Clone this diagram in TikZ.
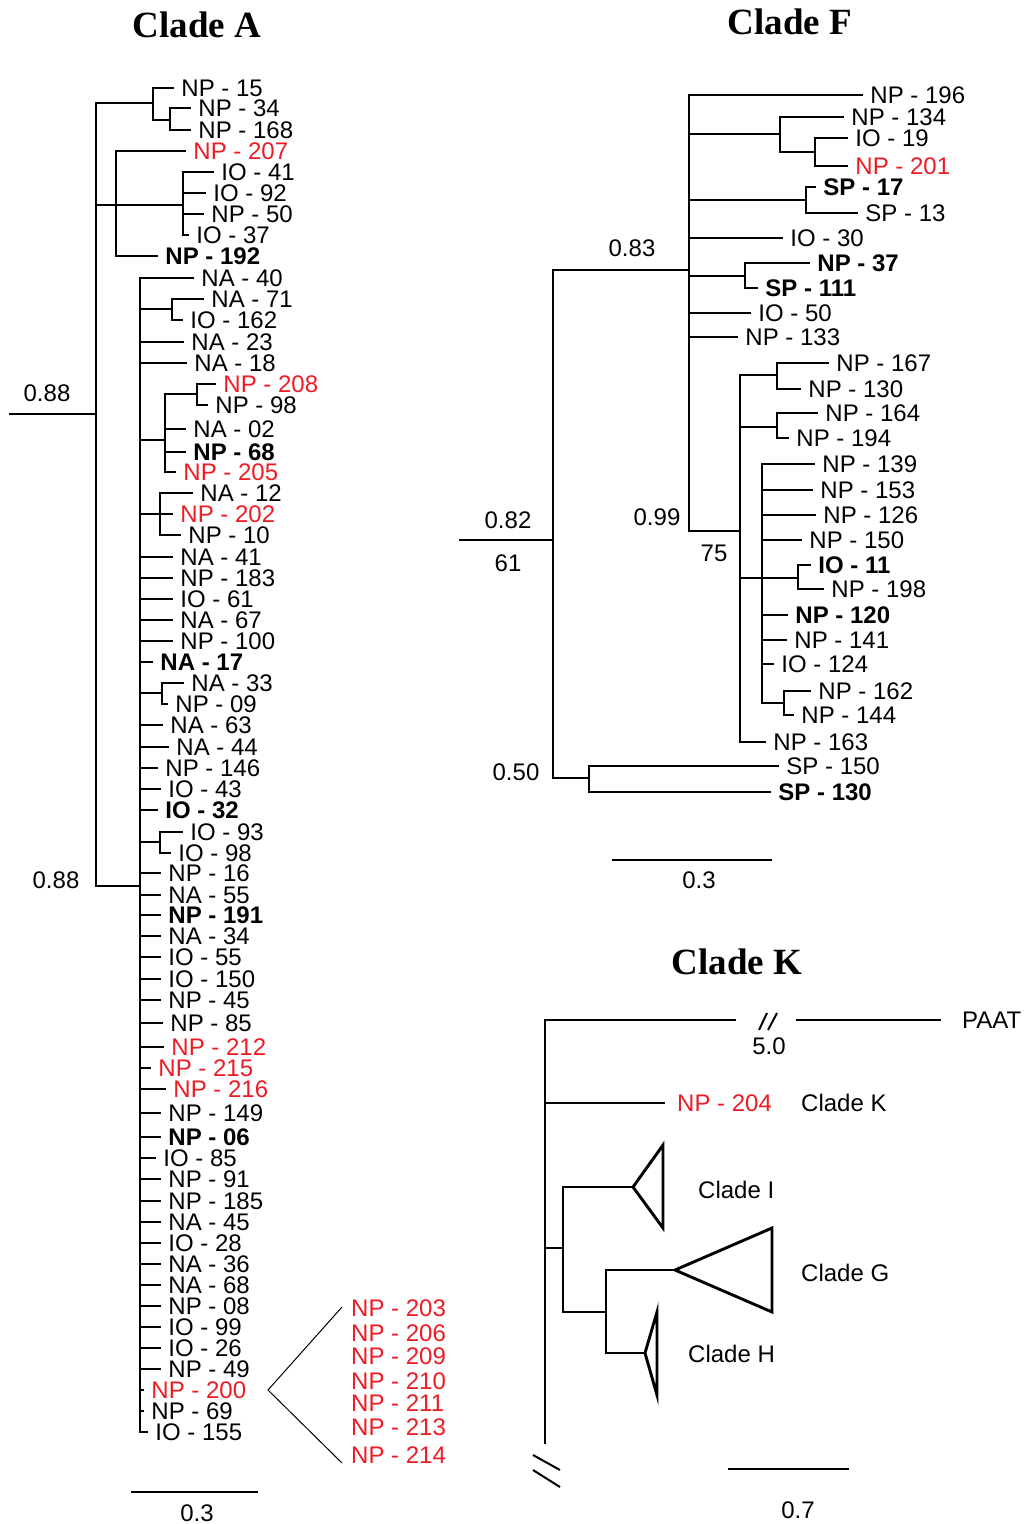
\documentclass[tikz,border=0pt]{standalone}
\usepackage{fontspec}
\usetikzlibrary{positioning}
\newfontfamily\treefont{Liberation Sans}
\newfontfamily\headfont{Liberation Serif}
\newcommand\lbl{\treefont\fontsize{24}{24}\selectfont}
\newcommand\hdl{\headfont\bfseries\fontsize{37}{37}\selectfont}
\definecolor{npred}{RGB}{237,28,36}

\begin{document}
\begin{tikzpicture}[x=1pt,y=-1pt,
  br/.style={line width=2.9pt,line cap=rect},
  fine/.style={line width=1pt},
  lf/.style={right,inner xsep=7pt,inner ysep=0pt,font=\lbl},
  rd/.style={lf,text=npred},
  bd/.style={lf,font=\lbl\bfseries},
  num/.style={inner sep=0pt,font=\lbl},
  hd/.style={inner sep=0pt,font=\hdl}]
\useasboundingbox (0,0) rectangle (1035,1524);

% ---- Clade A
\node[hd] (ttlA) at (197,25) {Clade A};
\draw[br] (10,414) -- (96,414);
\node[num] (bsA1) at (47,393) {0.88};
\node[num] (bsA2) at (56,880) {0.88};
\draw[br] (96,103) -- (96,886) -- (140,886);
\draw[br] (96,103) -- (153,103);
\draw[br] (153,88) -- (153,120) -- (170,120);
\draw[br] (153,88) -- (173,88) node[lf] (a15) {NP - 15};
\draw[br] (170,108) -- (170,130);
\draw[br] (170,108) -- (190,108) node[lf] (a34) {NP - 34};
\draw[br] (170,130) -- (190,130) node[lf] (a168) {NP - 168};
\draw[br] (96,205) -- (183,205);
\draw[br] (116,151) -- (116,256);
\draw[br] (116,151) -- (185,151) node[rd] (a207) {NP - 207};
\draw[br] (116,256) -- (157,256) node[bd] (a192) {NP - 192};
\draw[br] (183,172) -- (183,235);
\draw[br] (183,172) -- (213,172) node[lf] (a41) {IO - 41};
\draw[br] (183,193) -- (205,193) node[lf] (a92) {IO - 92};
\draw[br] (183,214) -- (203,214) node[lf] (a50) {NP - 50};
\draw[br] (183,235) -- (188,235) node[lf] (a37) {IO - 37};
\draw[br] (140,278) -- (140,1432);
\draw[br] (140,278) -- (193,278) node[lf] (b40) {NA - 40};
\draw[br] (140,309) -- (172,309);
\draw[br] (172,299) -- (172,320);
\draw[br] (172,299) -- (203,299) node[lf] (b71) {NA - 71};
\draw[br] (172,320) -- (182,320) node[lf] (b162) {IO - 162};
\draw[br] (140,342) -- (183,342) node[lf] (b23) {NA - 23};
\draw[br] (140,363) -- (186,363) node[lf] (b18) {NA - 18};
\draw[br] (140,440) -- (165,440);
\draw[br] (165,394) -- (165,472);
\draw[br] (165,394) -- (197,394);
\draw[br] (197,384) -- (197,405);
\draw[br] (197,384) -- (215,384) node[rd] (b208) {NP - 208};
\draw[br] (197,405) -- (207,405) node[lf] (b98) {NP - 98};
\draw[br] (165,429) -- (185,429) node[lf] (b02) {NA - 02};
\draw[br] (165,452) -- (185,452) node[bd] (b68) {NP - 68};
\draw[br] (165,472) -- (175,472) node[rd] (b205) {NP - 205};
\draw[br] (160,493) -- (160,535);
\draw[br] (160,493) -- (192,493) node[lf] (b12) {NA - 12};
\draw[br] (140,514) -- (172,514) node[rd] (b202) {NP - 202};
\draw[br] (160,535) -- (180,535) node[lf] (b10) {NP - 10};
\draw[br] (140,557) -- (172,557) node[lf] (c41) {NA - 41};
\draw[br] (140,578) -- (172,578) node[lf] (c183) {NP - 183};
\draw[br] (140,599) -- (172,599) node[lf] (c61) {IO - 61};
\draw[br] (140,620) -- (172,620) node[lf] (c67) {NA - 67};
\draw[br] (140,641) -- (172,641) node[lf] (c100) {NP - 100};
\draw[br] (140,662) -- (152,662) node[bd] (c17) {NA - 17};
\draw[br] (140,693) -- (162,693);
\draw[br] (162,683) -- (162,704);
\draw[br] (162,683) -- (183,683) node[lf] (c33) {NA - 33};
\draw[br] (162,704) -- (167,704) node[lf] (c09) {NP - 09};
\draw[br] (140,725) -- (162,725) node[lf] (c63) {NA - 63};
\draw[br] (140,747) -- (168,747) node[lf] (c44) {NA - 44};
\draw[br] (140,768) -- (157,768) node[lf] (c146) {NP - 146};
\draw[br] (140,789) -- (160,789) node[lf] (c43) {IO - 43};
\draw[br] (140,810) -- (157,810) node[bd] (c32) {IO - 32};
\draw[br] (140,842) -- (160,842);
\draw[br] (160,832) -- (160,853);
\draw[br] (160,832) -- (182,832) node[lf] (c93) {IO - 93};
\draw[br] (160,853) -- (170,853) node[lf] (c98) {IO - 98};
\draw[br] (140,873) -- (160,873) node[lf] (d16) {NP - 16};
\draw[br] (140,895) -- (160,895) node[lf] (d55) {NA - 55};
\draw[br] (140,915) -- (160,915) node[bd] (d191) {NP - 191};
\draw[br] (140,936) -- (160,936) node[lf] (d34) {NA - 34};
\draw[br] (140,957) -- (160,957) node[lf] (d55b) {IO - 55};
\draw[br] (140,979) -- (160,979) node[lf] (d150) {IO - 150};
\draw[br] (140,1000) -- (160,1000) node[lf] (d45) {NP - 45};
\draw[br] (140,1023) -- (162,1023) node[lf] (d85) {NP - 85};
\draw[br] (140,1047) -- (163,1047) node[rd] (d212) {NP - 212};
\draw[br] (140,1068) -- (150,1068) node[rd] (d215) {NP - 215};
\draw[br] (140,1089) -- (165,1089) node[rd] (d216) {NP - 216};
\draw[br] (140,1113) -- (160,1113) node[lf] (d149) {NP - 149};
\draw[br] (140,1137) -- (160,1137) node[bd] (d06) {NP - 06};
\draw[br] (140,1158) -- (155,1158) node[lf] (d85b) {IO - 85};
\draw[br] (140,1179) -- (160,1179) node[lf] (d91) {NP - 91};
\draw[br] (140,1201) -- (160,1201) node[lf] (e185) {NP - 185};
\draw[br] (140,1222) -- (160,1222) node[lf] (e45) {NA - 45};
\draw[br] (140,1243) -- (160,1243) node[lf] (e28) {IO - 28};
\draw[br] (140,1264) -- (160,1264) node[lf] (e36) {NA - 36};
\draw[br] (140,1285) -- (160,1285) node[lf] (e68) {NA - 68};
\draw[br] (140,1306) -- (160,1306) node[lf] (e08) {NP - 08};
\draw[br] (140,1327) -- (160,1327) node[lf] (e99) {IO - 99};
\draw[br] (140,1348) -- (160,1348) node[lf] (e26) {IO - 26};
\draw[br] (140,1369) -- (160,1369) node[lf] (e49) {NP - 49};
\draw[br] (140,1390) -- (143,1390) node[rd] (e200) {NP - 200};
\draw[br] (140,1411) -- (143,1411) node[lf] (e69) {NP - 69};
\draw[br] (140,1432) -- (147,1432) node[lf] (e155) {IO - 155};
% NP - 200 stands for these
\coordinate (fan) at (268,1390);
\draw[fine] (342,1307) -- (fan) -- (342,1463);
\node[rd] (g203) at (344,1308) {NP - 203};
\node[rd] (g206) at (344,1333) {NP - 206};
\node[rd] (g209) at (344,1356) {NP - 209};
\node[rd] (g210) at (344,1381) {NP - 210};
\node[rd] (g211) at (344,1403) {NP - 211};
\node[rd] (g213) at (344,1427) {NP - 213};
\node[rd] (g214) at (344,1455) {NP - 214};
\draw[br] (132,1492) -- (257,1492);
\node[num] (scA) at (197,1513) {0.3};

% ---- Clade F
\node[hd] (ttlF) at (790,22) {Clade F};
\draw[br] (460,540) -- (553,540);
\node[num] (bsF1) at (508,520) {0.82};
\node[num] (bsF2) at (508,563) {61};
\draw[br] (553,270) -- (553,778);
\draw[br] (553,270) -- (689,270);
\node[num] (bsF3) at (632,248) {0.83};
\draw[br] (689,95) -- (689,531);
\draw[br] (689,95) -- (862,95) node[lf] (f196) {NP - 196};
\draw[br] (689,134) -- (780,134);
\draw[br] (780,117) -- (780,152) -- (815,152);
\draw[br] (780,117) -- (843,117) node[lf] (f134) {NP - 134};
\draw[br] (815,138) -- (815,166);
\draw[br] (815,138) -- (847,138) node[lf] (f19) {IO - 19};
\draw[br] (815,166) -- (847,166) node[rd] (f201) {NP - 201};
\draw[br] (689,200) -- (806,200);
\draw[br] (806,187) -- (806,213);
\draw[br] (806,187) -- (815,187) node[bd] (f17) {SP - 17};
\draw[br] (806,213) -- (857,213) node[lf] (f13) {SP - 13};
\draw[br] (689,238) -- (782,238) node[lf] (f30) {IO - 30};
\draw[br] (689,276) -- (745,276);
\draw[br] (745,263) -- (745,288);
\draw[br] (745,263) -- (809,263) node[bd] (f37) {NP - 37};
\draw[br] (745,288) -- (757,288) node[bd] (f111) {SP - 111};
\draw[br] (689,313) -- (750,313) node[lf] (f50) {IO - 50};
\draw[br] (689,337) -- (737,337) node[lf] (f133) {NP - 133};
\draw[br] (689,531) -- (740,531);
\node[num] (bsF4) at (657,517) {0.99};
\node[num] (bsF5) at (714,553) {75};
\draw[br] (740,375) -- (740,742);
\draw[br] (740,375) -- (777,375);
\draw[br] (777,363) -- (777,389);
\draw[br] (777,363) -- (828,363) node[lf] (h167) {NP - 167};
\draw[br] (777,389) -- (800,389) node[lf] (h130) {NP - 130};
\draw[br] (740,427) -- (777,427);
\draw[br] (777,413) -- (777,438);
\draw[br] (777,413) -- (817,413) node[lf] (h164) {NP - 164};
\draw[br] (777,438) -- (788,438) node[lf] (h194) {NP - 194};
\draw[br] (740,578) -- (798,578);
\draw[br] (762,464) -- (762,703);
\draw[br] (762,464) -- (814,464) node[lf] (h139) {NP - 139};
\draw[br] (762,490) -- (812,490) node[lf] (h153) {NP - 153};
\draw[br] (762,515) -- (815,515) node[lf] (h126) {NP - 126};
\draw[br] (762,540) -- (801,540) node[lf] (h150) {NP - 150};
\draw[br] (798,565) -- (798,589);
\draw[br] (798,565) -- (810,565) node[bd] (h11) {IO - 11};
\draw[br] (798,589) -- (823,589) node[lf] (h198) {NP - 198};
\draw[br] (762,615) -- (787,615) node[bd] (h120) {NP - 120};
\draw[br] (762,640) -- (786,640) node[lf] (h141) {NP - 141};
\draw[br] (762,664) -- (773,664) node[lf] (h124) {IO - 124};
\draw[br] (762,703) -- (784,703);
\draw[br] (784,691) -- (784,715);
\draw[br] (784,691) -- (810,691) node[lf] (h162) {NP - 162};
\draw[br] (784,715) -- (793,715) node[lf] (h144) {NP - 144};
\draw[br] (740,742) -- (765,742) node[lf] (h163) {NP - 163};
\draw[br] (553,778) -- (589,778);
\node[num] (bsF6) at (516,772) {0.50};
\draw[br] (589,766) -- (589,792);
\draw[br] (589,766) -- (778,766) node[lf] (s150) {SP - 150};
\draw[br] (589,792) -- (770,792) node[bd] (s130) {SP - 130};
\draw[br] (613,860) -- (771,860);
\node[num] (scF) at (699,880) {0.3};

% ---- Clade K
\node[hd] (ttlK) at (737,962) {Clade K};
\draw[br] (545,1020) -- (545,1443);
\draw[br] (545,1020) -- (735,1020);
\draw[br] (797,1020) -- (940,1020);
\node[lf] (paat) at (955,1020) {PAAT};
\draw[line width=2pt] (759,1030) -- (767,1013) (768,1030) -- (777,1013);
\node[num] (brk) at (769,1046) {5.0};
\draw[br] (545,1103) -- (664,1103);
\node[rd] (k204) at (670,1103) {NP - 204};
\node[lf] (kK) at (794,1103) {Clade K};
\draw[br] (545,1248) -- (563,1248);
\draw[br] (563,1187) -- (563,1312) -- (606,1312);
\draw[br] (563,1187) -- (633,1187);
\draw[br,line cap=butt] (663,1145) -- (633,1187) -- (663,1228) -- cycle;
\node[lf] (kI) at (691,1190) {Clade I};
\draw[br] (606,1270) -- (606,1353);
\draw[br] (606,1270) -- (675,1270);
\draw[br,line cap=butt] (772,1228) -- (675,1270) -- (772,1312) -- cycle;
\node[lf] (kG) at (794,1273) {Clade G};
\draw[br] (606,1353) -- (645,1353);
\draw[br,line cap=butt] (657,1312) -- (645,1353) -- (657,1395) -- cycle;
\node[lf] (kH) at (681,1354) {Clade H};
\draw[line width=2pt] (533,1455) -- (560,1470) (533,1470) -- (560,1487);
\draw[br] (729,1469) -- (848,1469);
\node[num] (scK) at (798,1510) {0.7};
\end{tikzpicture}
\end{document}
